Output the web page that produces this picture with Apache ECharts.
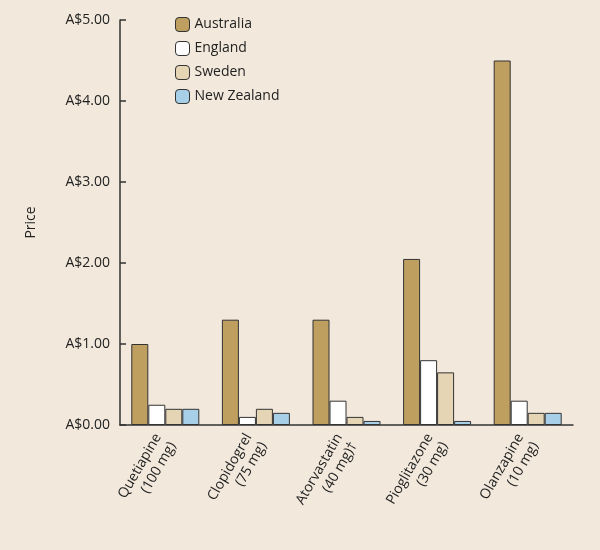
<!DOCTYPE html><html><head><meta charset="utf-8"><script src="https://cdn.jsdelivr.net/npm/echarts@6/dist/echarts.min.js"></script>
<style>html,body{margin:0;background:#f2e9dc}#c{width:600px;height:550px}</style></head><body><div id="c"></div><script>
const categories=['Quetiapine\n(100 mg)','Clopidogrel\n(75 mg)','Atorvastatin\n(40 mg)†','Pioglitazone\n(30 mg)','Olanzapine\n(10 mg)'];
const australia=[1.00,1.30,1.30,2.05,4.50];
const england=[0.25,0.10,0.30,0.80,0.30];
const sweden=[0.20,0.20,0.10,0.65,0.15];
const newZealand=[0.20,0.15,0.05,0.05,0.15];
const names=['Australia','England','Sweden','New Zealand'];
const colors=['#bf9f5f','#ffffff','#e6d5b5','#a8cfe8'];
const data=[australia,england,sweden,newZealand];
const F='Open Sans';
const chart=echarts.init(document.getElementById('c'));
chart.setOption({backgroundColor:'#f2e9dc',animation:false,
textStyle:{fontFamily:F},
legend:{orient:'vertical',left:170,top:12,itemWidth:14,itemHeight:14,itemGap:9,textStyle:{fontSize:14,color:'#222',fontFamily:F},
 data:names.map((n,i)=>({name:n,itemStyle:{color:colors[i],borderColor:'#333',borderWidth:1}}))},
grid:{left:120,right:27,top:20,bottom:125},
xAxis:{type:'category',data:categories,axisLine:{lineStyle:{color:'#333',width:1.5}},
 axisTick:{inside:true,length:14,lineStyle:{color:'#333',width:1.5}},
 axisLabel:{rotate:60,fontSize:14,color:'#222',fontFamily:F,margin:14,lineHeight:17,align:'right'}},
yAxis:{type:'value',min:0,max:5,interval:1,name:'Price',nameLocation:'middle',nameGap:82,nameTextStyle:{fontSize:14,color:'#222',fontFamily:F},
 axisLine:{show:true,lineStyle:{color:'#333',width:1.5}},axisTick:{show:true,inside:true,length:6,lineStyle:{color:'#333',width:1.5}},
 splitLine:{show:false},axisLabel:{fontSize:14,color:'#222',fontFamily:F,margin:10,formatter:v=>'A$'+v.toFixed(2)}},
series:names.map((n,i)=>({name:n,type:'bar',data:data[i],barWidth:17,barGap:'0%',barCategoryGap:'25%',
 itemStyle:{color:colors[i],borderColor:'#333',borderWidth:1}}))
});
</script></body></html>
